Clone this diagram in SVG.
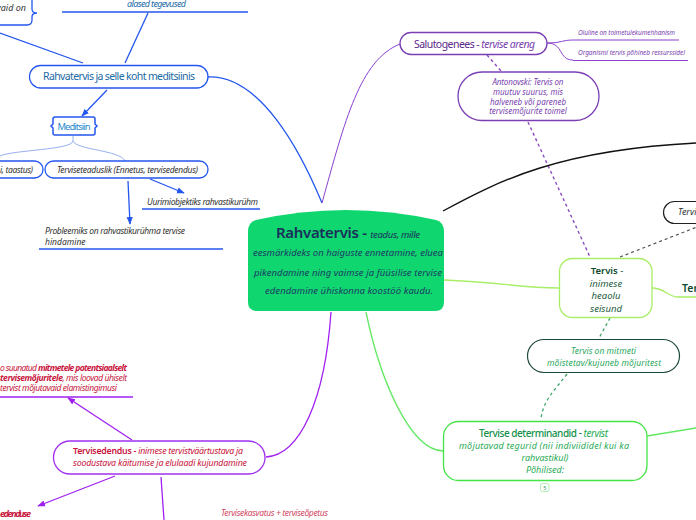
<svg xmlns="http://www.w3.org/2000/svg" width="696" height="520" viewBox="0 0 696 520">
<defs>
<style>
text{font-family:"Noto Sans","Open Sans","DejaVu Sans",sans-serif}
.i{font-style:italic}
.b{font-weight:bold}
.sb{font-weight:600}
.bl{fill:none;stroke:#2356ee;stroke-width:1.3}
.blt{fill:none;stroke:#8ca6ee;stroke-width:0.9}
.pu{fill:none;stroke:#8a3fd0;stroke-width:1}
.pud{fill:none;stroke:#8a4cc0;stroke-width:1.4;stroke-dasharray:3 3}
.mg{fill:none;stroke:#a020f0;stroke-width:1.3}
.gr{fill:none;stroke:#62e862;stroke-width:1.3}
.li{fill:none;stroke:#a8ee66;stroke-width:1.3}
.gd{fill:none;stroke:#3fa86a;stroke-width:1.3;stroke-dasharray:3 3}
.kd{fill:none;stroke:#555;stroke-width:1.2;stroke-dasharray:3 3}
.dark{fill:#333}
.blue{fill:#1b6aa5}
.pur{fill:#7a3fb0}
.red{fill:#c8143c}
</style>
<marker id="ab" viewBox="0 0 10 10" refX="9" refY="5" markerWidth="6" markerHeight="6" orient="auto"><path d="M0,1 L10,5 L0,9 Z" fill="#2356ee"/></marker>
<marker id="am" viewBox="0 0 10 10" refX="9" refY="5" markerWidth="6" markerHeight="6" orient="auto"><path d="M0,1 L10,5 L0,9 Z" fill="#a020f0"/></marker>
</defs>

<g id="connectors">
<path class="bl" d="M0,33 L83,63"/>
<path class="bl" d="M148,13 L125,63"/>
<path class="bl" d="M208,77 C260,75 300,150 322,203"/>
<path class="bl" d="M107,90 L82,116" marker-end="url(#ab)"/>
<path class="blt" d="M73,136 L73,141 C72,150 12,150 0,156"/>
<path class="blt" d="M73,141 C76,150 120,150 125,161"/>
<path class="bl" d="M150,179 L184,193" marker-end="url(#ab)"/>
<path class="bl" d="M128,181 L130,224" marker-end="url(#ab)"/>
<path class="pu" d="M322,203 C345,120 360,60 400,44"/>
<path class="pu" d="M547,43 C562,43 562,40 573,40"/>
<path class="pu" d="M547,43 C564,43 558,60 573,60"/>
<path class="pud" d="M487,55 L501,71"/>
<path class="pud" d="M528,122 L590,257"/>
<path fill="none" stroke="#111" stroke-width="1.4" d="M443,211 C500,180 560,150 696,143"/>
<path class="li" d="M444,280 C500,282 520,288 559,288"/>
<path class="li" d="M652,288 C665,288 668,297 678,297 L696,297"/>
<path class="kd" d="M620,257 L697,227"/>
<path class="gd" d="M610,318 L598,340"/>
<path class="gd" d="M567,374 C555,390 543,400 541,419"/>
<path class="gr" d="M366,312 C380,380 410,450 443,451"/>
<path class="gr" d="M647,436 L696,428"/>
<path class="mg" d="M331,312 C325,400 300,455 266,457"/>
<path class="mg" d="M132,440 L68,398" marker-end="url(#am)"/>
<path class="mg" d="M115,476 L38,506" marker-end="url(#am)"/>
<path class="mg" d="M161,477 L164,520"/>
</g>

<g id="n-vaid">
<path fill="#fff" stroke="#2356ee" stroke-width="1.3" d="M-5,25 L27,25 Q32,25 32,20 L32,17 Q32,13 37,13 Q32,13 32,9 L32,-5"/>
<text x="26" y="11" font-size="9" class="i dark" text-anchor="end">vaid on</text>
</g>

<g id="n-alased">
<text x="127" y="7" font-size="9" class="i blue" textLength="59">alased tegevused</text>
<path class="bl" d="M62,12 L248,12"/>
</g>

<g id="n-rahvmed">
<rect x="29.5" y="65.5" width="178.5" height="22.5" rx="11.25" fill="#fff" stroke="#2356ee" stroke-width="1.3"/>
<text x="119" y="80" font-size="10.5" class="blue" text-anchor="middle" textLength="152">Rahvatervis ja selle koht meditsiinis</text>
</g>

<g id="n-meditsiin">
<path fill="#fff" stroke="#2356ee" stroke-width="1.5" d="M55,117 L93,117 Q95,117 95,119 L95,124 L97,126 L95,128 L95,133 Q95,135 93,135 L55,135 Q53,135 53,133 L53,128 L51,126 L53,124 L53,119 Q53,117 55,117 Z"/>
<text x="74" y="130" font-size="9.5" fill="#2b8ccc" text-anchor="middle" textLength="33">Meditsiin</text>
</g>

<g id="n-taastus">
<rect x="-20" y="161" width="63" height="17" rx="8.5" fill="#fff" stroke="#2356ee" stroke-width="1.3"/>
<text x="0" y="173" font-size="8.5" class="i dark" textLength="33">i, taastus)</text>
</g>

<g id="n-tervtead">
<rect x="45" y="161" width="163" height="17" rx="8.5" fill="#fff" stroke="#2356ee" stroke-width="1.3"/>
<text x="57" y="173" font-size="8.5" class="i dark" textLength="141">Terviseteaduslik (Ennetus, tervisedendus)</text>
</g>

<g id="n-uurimi">
<text x="147" y="205" font-size="8.5" class="i dark" textLength="111">Uurimiobjektiks rahvastikurühm</text>
<path class="bl" d="M142,209 L260,209"/>
</g>

<g id="n-problem">
<text x="45" y="234" font-size="8.5" class="i dark" textLength="140">Probleemiks on rahvastikurühma tervise</text>
<text x="45" y="245" font-size="8.5" class="i dark">hindamine</text>
<path class="bl" d="M39,249 L223,249"/>
</g>

<g id="n-main">
<path fill="#0fd66f" d="M248,232 Q248,222 256,220 Q346,200 436,220 Q444,222 444,232 L444,302 Q444,311 435,311 L257,311 Q248,311 248,302 Z"/>
<text x="276" y="238" fill="#1c2e5c" textLength="144"><tspan font-size="15" class="sb">Rahvatervis - </tspan><tspan font-size="9.5" class="i">teadus, mille</tspan></text>
<text x="348" y="256" font-size="9.5" class="i" fill="#1e3a66" text-anchor="middle" textLength="190">eesmärkideks on haiguste ennetamine, eluea</text>
<text x="348" y="276" font-size="9.5" class="i" fill="#1e3a66" text-anchor="middle" textLength="188">pikendamine ning vaimse ja füüsilise tervise</text>
<text x="349" y="294" font-size="9.5" class="i" fill="#1e3a66" text-anchor="middle" textLength="168">edendamine ühiskonna koostöö kaudu.</text>
</g>

<g id="n-saluto">
<rect x="400" y="32.5" width="147" height="22" rx="11" fill="#fff" stroke="#7b3fb5" stroke-width="1.3"/>
<text x="414" y="48" font-size="10.5" textLength="121"><tspan fill="#5b2a86">Salutogenees - </tspan><tspan class="i pur">tervise areng</tspan></text>
</g>

<g id="n-oluline">
<text x="578" y="35" font-size="6.5" class="i pur" textLength="97">Oluline on toimetulekumehhanism</text>
<path class="pu" d="M573,40 L679,40" stroke-width="1.4"/>
</g>

<g id="n-organismi">
<text x="578" y="55" font-size="6.5" class="i pur" textLength="107">Organismi tervis põhineb ressurssidel</text>
<path class="pu" d="M573,60.5 L688,60.5" stroke-width="1.4"/>
</g>

<g id="n-antonovski">
<rect x="458" y="72" width="141" height="48.5" rx="24" fill="#fff" stroke="#7b3fb5" stroke-width="1.3"/>
<text x="528" y="85" font-size="8" class="i pur" text-anchor="middle" textLength="71">Antonovski: Tervis on</text>
<text x="528" y="95" font-size="8" class="i pur" text-anchor="middle">muutuv suurus, mis</text>
<text x="528" y="104.5" font-size="8" class="i pur" text-anchor="middle">halveneb või pareneb</text>
<text x="528" y="114" font-size="8" class="i pur" text-anchor="middle">tervisemõjurite toimel</text>
</g>

<g id="n-tervis">
<rect x="559.5" y="258.5" width="92.5" height="59" rx="13" fill="#fff" stroke="#a8ee66" stroke-width="1.3"/>
<text x="607" y="274" font-size="9.5" class="sb" fill="#0d4a2e" text-anchor="middle">Tervis <tspan font-weight="normal">-</tspan></text>
<text x="606" y="286.5" font-size="9.5" class="i" fill="#1c5a3c" text-anchor="middle">inimese</text>
<text x="606" y="299" font-size="9.5" class="i" fill="#1c5a3c" text-anchor="middle">heaolu</text>
<text x="606" y="311.5" font-size="9.5" class="i" fill="#1c5a3c" text-anchor="middle">seisund</text>
</g>

<g id="n-ter">
<text x="682" y="292" font-size="10.5" class="sb" fill="#0d4a2e">Ter</text>
</g>

<g id="n-tervi">
<rect x="663.5" y="201.5" width="50" height="22" rx="11" fill="#fff" stroke="#222" stroke-width="1.2"/>
<text x="678" y="215" font-size="9" class="i dark">Tervi</text>
</g>

<g id="n-mitmeti">
<rect x="527.5" y="339.5" width="152" height="33" rx="16.5" fill="#fff" stroke="#1e4a3a" stroke-width="1.2"/>
<text x="603.5" y="354" font-size="8.5" class="i" fill="#2aa860" text-anchor="middle" textLength="65">Tervis on mitmeti</text>
<text x="604" y="366" font-size="8.5" class="i" fill="#2aa860" text-anchor="middle" textLength="114">mõistetav/kujuneb mõjuritest</text>
</g>

<g id="n-determ">
<rect x="443.5" y="421.5" width="203.5" height="59" rx="15" fill="#fff" stroke="#45e445" stroke-width="1.3"/>
<text x="479" y="437" font-size="10" textLength="129"><tspan fill="#12904a" font-weight="500">Tervise determinandid - </tspan><tspan class="i" fill="#1faa55">tervist</tspan></text>
<text x="544" y="449" font-size="9" class="i" fill="#1faa55" text-anchor="middle" textLength="170">mõjutavad tegurid (nii indiviididel kui ka</text>
<text x="545" y="461" font-size="9" class="i" fill="#1faa55" text-anchor="middle">rahvastikul)</text>
<text x="545" y="473" font-size="9" class="i" fill="#1faa55" text-anchor="middle">Põhilised:</text>
<rect x="540.5" y="483.5" width="8.5" height="8" rx="2" fill="#fff" stroke="#9be89b" stroke-width="0.8"/>
<text x="544.75" y="490" font-size="5.5" fill="#3a9a5a" text-anchor="middle">5</text>
</g>

<g id="n-tervisedendus">
<rect x="53.5" y="441" width="211.5" height="33" rx="16.5" fill="#fff" stroke="#a030f0" stroke-width="1.3"/>
<text x="73" y="454" font-size="8.8" textLength="170"><tspan class="sb red">Tervisedendus - </tspan><tspan class="i red">inimese tervistväärtustava ja</tspan></text>
<text x="73" y="466" font-size="8.8" class="i red" textLength="174">soodustava käitumise ja elulaadi kujundamine</text>
</g>

<g id="n-suunatud">
<text x="0" y="371" font-size="8.5" class="i red" textLength="127">o suunatud <tspan class="b">mitmetele potentsiaalselt</tspan></text>
<text x="0" y="381" font-size="8.5" class="i red" textLength="127"><tspan class="b">tervisemõjuritele</tspan>, mis  loovad ühiselt</text>
<text x="0" y="391" font-size="8.5" class="i red" textLength="117">tervist mõjutavaid elamistingimusi</text>
<path class="mg" d="M0,397 L133,397"/>
</g>

<g id="n-edenduse">
<text x="0" y="517" font-size="9" class="b i red" textLength="31">edenduse</text>
</g>

<g id="n-kasvatus">
<text x="221" y="516" font-size="8.5" class="i" fill="#d4485f" textLength="107">Tervisekasvatus + terviseõpetus</text>
</g>
</svg>
